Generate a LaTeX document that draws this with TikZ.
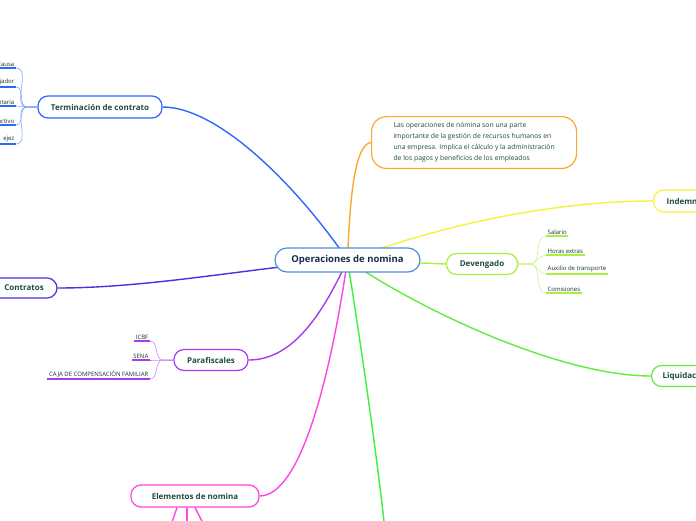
\documentclass[tikz,border=0pt]{standalone}
\usepackage{fontspec}
\setmainfont{Open Sans}
\usetikzlibrary{backgrounds}

\definecolor{txtgreen}{HTML}{1E4B3C}
\definecolor{navy}{HTML}{1C2C4C}
\definecolor{opblue}{HTML}{4A90D9}
\definecolor{tblue}{HTML}{2F66FF}
\definecolor{tblight}{HTML}{86A6FF}
\definecolor{indigo}{HTML}{4B2EE8}
\definecolor{purp}{HTML}{A53CF0}
\definecolor{purplight}{HTML}{C98CF5}
\definecolor{mag}{HTML}{FF45E6}
\definecolor{orng}{HTML}{FFA82E}
\definecolor{yel}{HTML}{F4F43C}
\definecolor{lime}{HTML}{ACF03E}
\definecolor{limelight}{HTML}{CCF58C}
\definecolor{grn}{HTML}{5EEE3C}
\definecolor{brgrn}{HTML}{3CF03C}

\begin{document}
\begin{tikzpicture}[x=1pt,y=-1pt,
 topic/.style={draw,line width=1.2pt,rounded corners=10pt,fill=white,text=txtgreen,
   font=\fontsize{8}{10}\selectfont\bfseries,minimum height=22pt,inner xsep=10pt},
 leaf/.style={font=\fontsize{6}{7}\selectfont,text=txtgreen!70!black,inner sep=1.5pt},
 bough/.style={line width=1.4pt},
 twig/.style={line width=0.6pt},
 uline/.style={line width=1.3pt}]
\useasboundingbox (0,0) rectangle (696,520);
\clip (0,0) rectangle (696,520);

% central topic
\node[topic,draw=opblue,text=navy,font=\fontsize{9.5}{12}\selectfont\bfseries,
  minimum width=145pt,minimum height=24pt,rounded corners=12pt] (ops) at (347.5,260) {Operaciones de nomina};

% left side
\node[topic,draw=tblue,minimum width=124pt] (term) at (100,107) {Terminación de contrato};
\node[topic,draw=indigo,minimum width=66pt,minimum height=20pt] (contr) at (24,288) {Contratos};
\node[topic,draw=purp,minimum width=74pt,minimum height=21pt] (paraf) at (211,360) {Parafiscales};
\node[topic,draw=mag,minimum width=128pt] (elem) at (195,496) {Elementos de nomina};

\node[leaf,anchor=south east] (t1) at (16,68) {causa};
\node[leaf,anchor=south east] (t2) at (16,87) {bajador};
\node[leaf,anchor=south east] (t3) at (16,106) {ntaria};
\node[leaf,anchor=south east] (t4) at (16,125) {activo};
\node[leaf,anchor=south east] (t5) at (16,144) {ejez};

\node[leaf,anchor=south east] (p1) at (150,341) {ICBF};
\node[leaf,anchor=south east] (p2) at (150,360) {SENA};
\node[leaf,anchor=south east] (p3) at (150,379) {CAJA DE COMPENSACIÓN FAMILIAR};

% right side
\node[draw=orng,line width=1.2pt,rounded corners=15pt,fill=white,text=txtgreen,
  font=\fontsize{6.8}{11}\selectfont,align=left,inner xsep=14pt,inner ysep=6pt,
  minimum width=205pt,anchor=north west] (descr) at (371,116)
  {Las operaciones de nómina son una parte\\importante de la gestión de recursos humanos en\\una empresa. Implica el cálculo y la administración\\de los pagos y beneficios de los empleados};
\node[topic,draw=yel,anchor=west,text width=72pt,align=left,inner xsep=13pt] (indem) at (653,201) {Indemn};
\node[topic,draw=lime,minimum width=71pt,minimum height=21pt] (deven) at (482,264) {Devengado};
\node[topic,draw=grn,anchor=west,text width=72pt,align=left,inner xsep=11pt,minimum height=21pt] (liqui) at (651,376) {Liquidaci};

\node[leaf,anchor=south west] (d1) at (546,236) {Salario};
\node[leaf,anchor=south west] (d2) at (546,255) {Horas extras};
\node[leaf,anchor=south west] (d3) at (546,274) {Auxilio de transporte};
\node[leaf,anchor=south west] (d4) at (546,293) {Comisiones};

% free ends below the frame
\coordinate (down) at (385,530);
\coordinate (e1) at (171,525);
\coordinate (e2) at (187,525);
\coordinate (e3) at (204,525);

\begin{scope}[on background layer]
\fill[white] (0,0) rectangle (696,520);
\draw[bough,draw=tblue] (ops.center) .. controls (300,190) and (220,107) .. (term.east);
\draw[bough,draw=indigo] (ops.center) .. controls (250,268) and (150,288) .. (contr.east);
\draw[bough,draw=purp] (ops.center) .. controls (320,320) and (290,360) .. (paraf.east);
\draw[bough,draw=mag] (ops.center) .. controls (330,380) and (300,496) .. (elem.east);
\draw[bough,draw=orng] (ops.center) .. controls (350,190) and (356,144) .. (descr.west);
\draw[bough,draw=yel] (ops.center) .. controls (450,222) and (560,201) .. (indem.west);
\draw[bough,draw=lime] (ops.center) -- (deven.west);
\draw[bough,draw=grn] (ops.center) .. controls (420,310) and (560,376) .. (liqui.west);
\draw[bough,draw=brgrn] (ops.center) .. controls (360,340) and (375,440) .. (down);
\draw[bough,draw=mag] ([xshift=-18pt]elem.south) -- (e1);
\draw[line width=2pt,draw=mag] ([xshift=-8pt]elem.south) -- (e2);
\draw[bough,draw=mag] (elem.south) -- (e3);
\end{scope}

% children of Terminacion de contrato
\foreach \c in {t1,t2,t3,t4,t5}{
  \draw[twig,draw=tblight] (term.west) -- (27,107) to[out=180,in=0] (\c.south east);
  \draw[uline,draw=tblue] (\c.south east) -- ++(-30,0);
}
% children of Parafiscales
\foreach \c in {p1,p2,p3}{
  \draw[twig,draw=purplight] (paraf.west) -- (163,360) to[out=180,in=0] (\c.south east);
  \draw[uline,draw=purp] (\c.south west) -- (\c.south east);
}
% children of Devengado
\foreach \c in {d1,d2,d3,d4}{
  \draw[twig,draw=limelight] (deven.east) -- (530,264) to[out=0,in=180] (\c.south west);
  \draw[uline,draw=lime] (\c.south west) -- (\c.south east);
}
\end{tikzpicture}
\end{document}
